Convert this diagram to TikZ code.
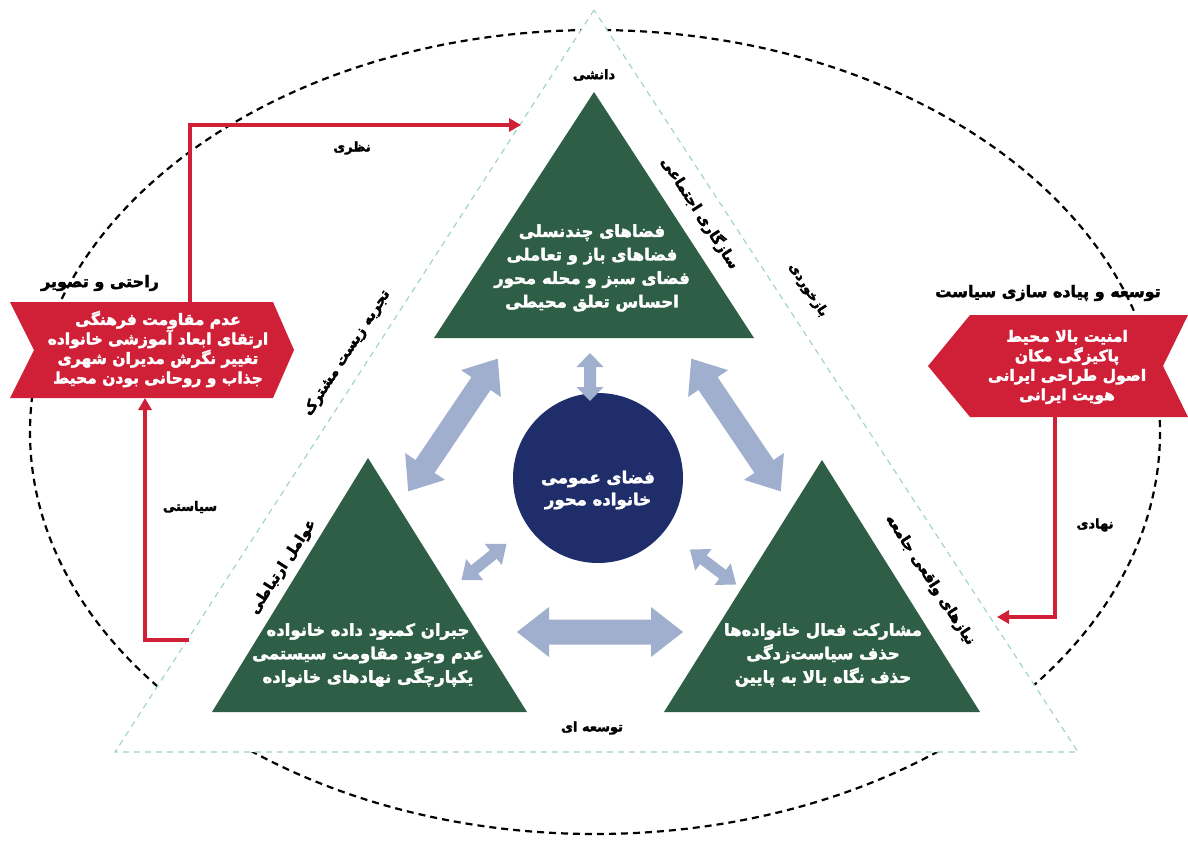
\documentclass[tikz,border=0pt]{standalone}
\usepackage{fontspec}
\newfontfamily\arabicfont[Script=Arabic, BoldFeatures={FakeBold=2.4}]{DejaVu Sans}
\TeXXeTstate=1
\usetikzlibrary{arrows.meta}
\newcommand\prs[1]{{\arabicfont\bfseries\beginR #1\endR}}
\definecolor{gr}{RGB}{46,94,70}
\definecolor{nav}{RGB}{31,45,107}
\definecolor{rd}{RGB}{208,32,56}
\definecolor{arr}{RGB}{160,175,205}
\definecolor{tri}{RGB}{160,210,190}
\begin{document}
\begin{tikzpicture}[x=1pt,y=-1pt,
  lbl/.style={font=\fontsize{13}{14}\selectfont, text=black, inner sep=0pt},
  ttl/.style={font=\fontsize{16}{18}\selectfont, text=black, inner sep=0pt},
  rot/.style={font=\fontsize{14.5}{16}\selectfont, text=black, inner sep=0pt},
  wt/.style={text=white, align=center, inner sep=0pt},
  gtext/.style={wt, font=\fontsize{16.5}{23.5}\selectfont},
  btext/.style={wt, font=\fontsize{15.5}{19.5}\selectfont},
  redline/.style={rd, line width=3.2pt},
  redtip/.style={-{Triangle[length=12pt,width=13pt]}},
  gtri/.style={fill=gr},
  pics/dbl/.style args={#1/#2/#3/#4}{code={
    \fill[arr] (-#1/2,0) -- (-#1/2+#4,#3/2) -- (-#1/2+#4,#2/2) -- (#1/2-#4,#2/2)
      -- (#1/2-#4,#3/2) -- (#1/2,0) -- (#1/2-#4,-#3/2) -- (#1/2-#4,-#2/2)
      -- (-#1/2+#4,-#2/2) -- (-#1/2+#4,-#3/2) -- cycle;}}]
\useasboundingbox (0,0) rectangle (1188,848);
\fill[white] (0,0) rectangle (1188,848);
% outer dashed ellipse
\draw[black, line width=2.2pt, dash pattern=on 7pt off 5pt] (595,432) ellipse [x radius=565, y radius=402];
% big dashed triangle
\coordinate (A) at (594,10);
\coordinate (B) at (115,752);
\coordinate (C) at (1078,752);
\filldraw[fill=white, draw=tri, line width=1.1pt, dash pattern=on 6pt off 5pt] (A) -- (B) -- (C) -- cycle;
% red connectors
\coordinate (lbTop) at (190,302);
\coordinate (nzEnd) at (521,125);
\coordinate (lbBot) at (145,398);
\coordinate (sEnd) at (189,640);
\coordinate (rbBot) at (1055,416);
\coordinate (nhEnd) at (997,617);
\draw[redline, redtip] (lbTop) |- (nzEnd);
\draw[redline, redtip] (sEnd) -| (lbBot);
\draw[redline, redtip] (rbBot) |- (nhEnd);
% banners
\fill[rd] (10,302) -- (273,302) -- (294,350) -- (273,398) -- (10,398) -- (34,350) -- cycle;
\fill[rd] (970,315) -- (1188,315) -- (1163,366) -- (1188,417) -- (970,417) -- (928,366) -- cycle;
\node[btext] (lbanner) at (158,349) {\prs{عدم مقاومت فرهنگی}\\\prs{ارتقای ابعاد آموزشی خانواده}\\\prs{تغییر نگرش مدیران شهری}\\\prs{جذاب و روحانی بودن محیط}};
\node[btext] (rbanner) at (1067,367) {\prs{امنیت بالا محیط}\\\prs{پاکیزگی مکان}\\\prs{اصول طراحی ایرانی}\\\prs{هویت ایرانی}};
% green triangles
\fill[gtri] (594,92) -- (434,338) -- (754,338) -- cycle;
\fill[gtri] (368,458) -- (212,712) -- (527,712) -- cycle;
\fill[gtri] (822,460) -- (664,712) -- (980,712) -- cycle;
\node[gtext] (ttop) at (592,268) {\prs{فضاهای چندنسلی}\\\prs{فضاهای باز و تعاملی}\\\prs{فضای سبز و محله محور}\\\prs{احساس تعلق محیطی}};
\node[gtext] (tbl) at (368,655) {\prs{جبران کمبود داده خانواده}\\\prs{عدم وجود مقاومت سیستمی}\\\prs{یکپارچگی نهادهای خانواده}};
\node[gtext] (tbr) at (823,655) {\prs{مشارکت فعال خانواده‌ها}\\\prs{حذف سیاست‌زدگی}\\\prs{حذف نگاه بالا به پایین}};
% centre circle
\node[circle, fill=nav, minimum size=170pt, inner sep=0pt] (ctr) at (598,478) {};
\node[gtext, font=\fontsize{16.5}{22}\selectfont] (ctrtext) at (598,490) {\prs{فضای عمومی}\\\prs{خانواده محور}};
% double arrows
\pic (a1) [rotate=90] at (590,377) {dbl=48/12/27/14};
\pic (a2) [rotate=56] at (453,425) {dbl=160/23/48/30};
\pic (a3) [rotate=-56] at (736,425) {dbl=160/23/48/30};
\pic (a4) [rotate=39] at (484,562) {dbl=58/11/27/17};
\pic (a5) [rotate=-37] at (713,567) {dbl=58/11/27/17};
\pic (a6) at (600,632) {dbl=166/25/50/32};
% labels
\node[lbl] (danesh) at (594,75) {\prs{دانشی}};
\node[lbl] (nazari) at (352,148) {\prs{نظری}};
\node[ttl] (rahati) at (100,283) {\prs{راحتی و تصویر}};
\node[ttl] (tosee) at (1048,293) {\prs{توسعه و پیاده سازی سیاست}};
\node[lbl] (siasati) at (190,507) {\prs{سیاستی}};
\node[lbl] (nahadi) at (1095,525) {\prs{نهادی}};
\node[lbl] (toseei) at (592,728) {\prs{توسعه ای}};
\node[rot, rotate=57] (tajrobe) at (347,353) {\prs{تجربه زیست مشترک}};
\node[rot, rotate=-57] (sazgari) at (700,213) {\prs{سازگاری اجتماعی}};
\node[rot, font=\fontsize{13}{14}\selectfont, rotate=-57] (bazkhord) at (808,290) {\prs{بازخوردی}};
\node[rot, rotate=57] (avamel) at (283,567) {\prs{عوامل ارتباطی}};
\node[rot, rotate=-57] (niaz) at (930,580) {\prs{نیازهای واقعی جامعه}};
\end{tikzpicture}
\end{document}
